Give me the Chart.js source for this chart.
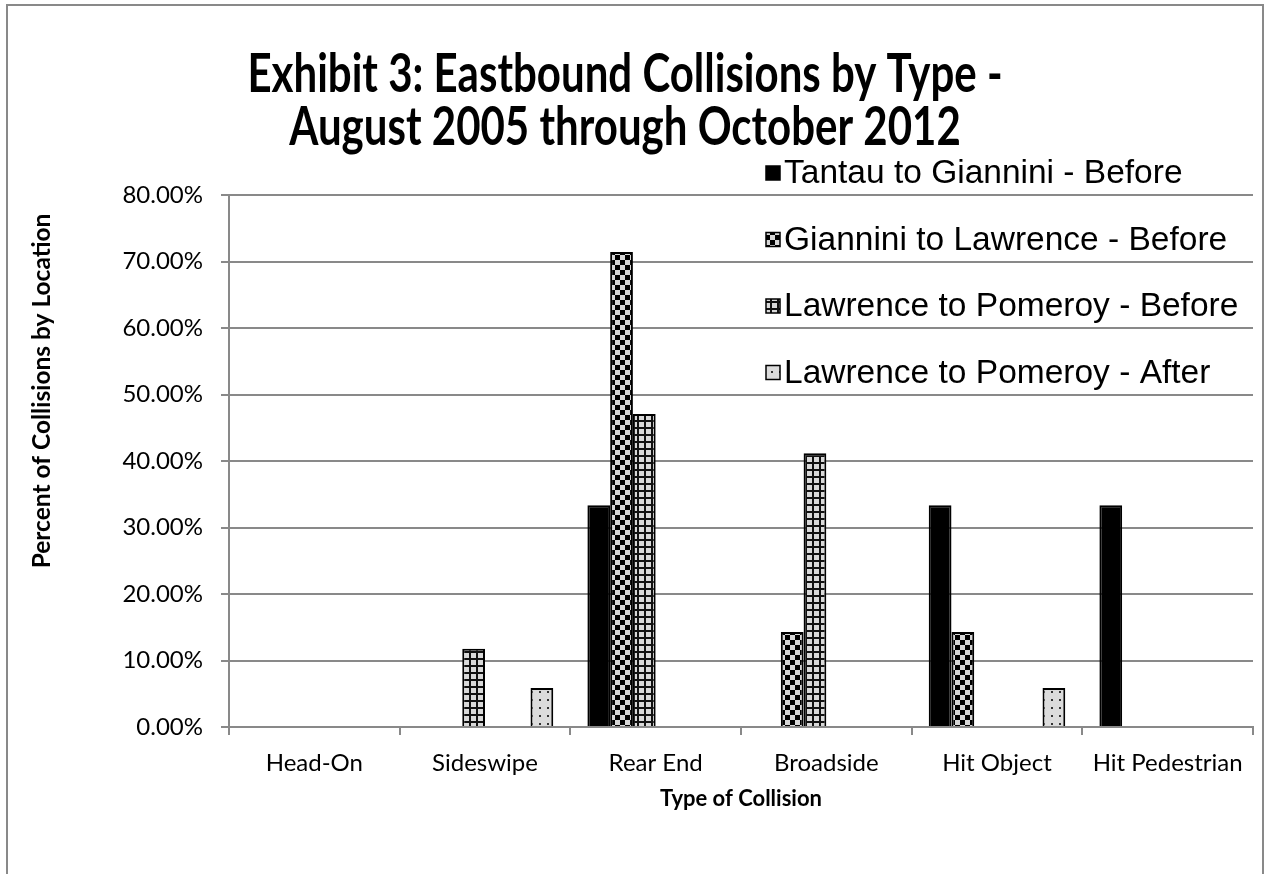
<!DOCTYPE html>
<html>
<head>
<meta charset="utf-8">
<title>Exhibit 3: Eastbound Collisions by Type</title>
<script src="https://cdn.jsdelivr.net/npm/chart.js"></script>
<style>
    html, body { margin: 0; padding: 0; background: #fff; }
</style>
</head>
<body>
<canvas id="collisions" width="1266" height="874"></canvas>
<script>
// Data (percent of collisions by location)
var categories = ["Head-On", "Sideswipe", "Rear End", "Broadside", "Hit Object", "Hit Pedestrian"];
var tantauBefore = [null, null, 33.33, null, 33.33, 33.33];
var gianniniBefore = [null, null, 71.43, 14.29, 14.29, null];
var lawrenceBefore = [null, 11.76, 47.06, 41.18, null, null];
var lawrenceAfter = [null, 5.88, null, null, 5.88, null];
// the original keeps room for two series that have no bars
var emptySeries = [null, null, null, null, null, null];
var yMax = 80;
var yStep = 10;

var titleLines = ["Exhibit 3: Eastbound Collisions by Type -", "August 2005 through October 2012"];
var yTitle = "Percent of Collisions by Location";
var xTitle = "Type of Collision";

var gridGrey = "#898989";

// Fill patterns
function makePattern(kind) {
    var c = document.createElement("canvas");
    var p = c.getContext("2d");
    if (kind === "checker") {
        c.width = c.height = 10;
        p.fillStyle = "#d6d6d6";
        p.fillRect(0, 0, 10, 10);
        p.fillStyle = "#000";
        p.fillRect(0, 0, 5, 5);
        p.fillRect(5, 5, 5, 5);
    } else if (kind === "grid") {
        c.width = c.height = 7;
        p.fillStyle = "#d9d9d9";
        p.fillRect(0, 0, 7, 7);
        p.fillStyle = "#111";
        p.fillRect(0, 0, 7, 2);
        p.fillRect(0, 0, 2, 7);
    } else {
        c.width = c.height = 8;
        p.fillStyle = "#dcdcdc";
        p.fillRect(0, 0, 8, 8);
        p.fillStyle = "#333";
        p.fillRect(3, 3, 2, 2);
    }
    return p.createPattern(c, "repeat");
}

var checker = makePattern("checker");
var gridFill = makePattern("grid");
var dots = makePattern("dots");

// Page frame
var framePlugin = {
    id: "frame",
    beforeDraw: function (chart) {
        var ctx = chart.ctx;
        ctx.save();
        ctx.fillStyle = "#fff";
        ctx.fillRect(0, 0, chart.width, chart.height);
        ctx.strokeStyle = gridGrey;
        ctx.lineWidth = 2;
        ctx.strokeRect(7, 5, 1256, 900);
        ctx.restore();
    }
};

// Tall bold title and the rotated y title
var titlesPlugin = {
    id: "titles",
    afterDraw: function (chart) {
        var ctx = chart.ctx;
        ctx.save();
        ctx.fillStyle = "#000";
        ctx.textAlign = "center";
        ctx.textBaseline = "middle";
        ctx.font = "bold 42px Lato";
        titleLines.forEach(function (t, i) {
            ctx.save();
            ctx.translate(625, 75 + i * 53);
            ctx.scale(1, 1.28);
            ctx.fillText(t, 0, 0);
            ctx.restore();
        });
        ctx.font = "bold 24.5px Lato";
        ctx.translate(42, 391);
        ctx.rotate(-Math.PI / 2);
        ctx.fillText(yTitle, 0, 0);
        ctx.restore();
    }
};

// Legend stacked in the top right, over the grid
var sideLegend = {
    id: "sideLegend",
    afterDraw: function (chart) {
        var ctx = chart.ctx;
        var row = 0;
        ctx.save();
        ctx.font = "33.5px 'Liberation Sans', Arial, sans-serif";
        ctx.textBaseline = "middle";
        chart.data.datasets.forEach(function (ds) {
            if (!ds.label) return;
            var y = 173 + row * 66.5;
            ctx.fillStyle = ds.backgroundColor;
            ctx.fillRect(766, y - 7, 14, 14);
            ctx.strokeStyle = "#000";
            ctx.lineWidth = 1.5;
            ctx.strokeRect(766, y - 7, 14, 14);
            ctx.fillStyle = "#000";
            ctx.fillText(ds.label, 784, y + 1);
            row++;
        });
        ctx.restore();
    }
};

var ctx = document.getElementById("collisions").getContext("2d");
var chart = new Chart(ctx, {
    type: "bar",
    data: {
        labels: categories,
        datasets: [{
            label: "Tantau to Giannini - Before",
            data: tantauBefore,
            backgroundColor: "#000"
        },
            {
                label: "Giannini to Lawrence - Before",
                data: gianniniBefore,
                backgroundColor: checker
            },
            {
                label: "Lawrence to Pomeroy - Before",
                data: lawrenceBefore,
                backgroundColor: gridFill
            },
            {
                label: "",
                data: emptySeries,
                backgroundColor: "#fff"
            },
            {
                label: "",
                data: emptySeries,
                backgroundColor: "#fff"
            },
            {
                label: "Lawrence to Pomeroy - After",
                data: lawrenceAfter,
                backgroundColor: dots
            }
        ]
    },
    options: {
        responsive: false,
        animation: false,
        devicePixelRatio: 1,
        layout: {
            padding: {left: 0, right: 13, top: 195, bottom: 0}
        },
        datasets: {
            bar: {
                categoryPercentage: 0.8,
                barPercentage: 1.0,
                borderColor: "#000",
                borderWidth: 2
            }
        },
        plugins: {
            legend: {display: false},
            tooltip: {enabled: false},
            title: {display: false}
        },
        scales: {
            x: {
                grid: {
                    offset: true,
                    drawOnChartArea: false,
                    color: gridGrey,
                    lineWidth: 2,
                    tickLength: 8
                },
                border: {color: gridGrey, width: 2},
                ticks: {
                    color: "#000",
                    padding: 14,
                    maxRotation: 0,
                    font: {family: "Lato", size: 24}
                },
                title: {
                    display: true,
                    text: xTitle,
                    color: "#000",
                    font: {family: "Lato", size: 22, weight: "bold"},
                    padding: {bottom: 62}
                },
                afterFit: function (scale) {
                    scale.height = 147;
                }
            },
            y: {
                min: 0,
                max: yMax,
                grid: {
                    color: gridGrey,
                    lineWidth: 2,
                    tickLength: 8
                },
                border: {color: gridGrey, width: 2},
                ticks: {
                    stepSize: yStep,
                    color: "#000",
                    padding: 18,
                    font: {family: "Lato", size: 24},
                    callback: function (v) {
                        return v.toFixed(2) + "%";
                    }
                },
                afterFit: function (scale) {
                    scale.width = 229;
                }
            }
        }
    },
    plugins: [framePlugin, titlesPlugin, sideLegend]
});
</script>
</body>
</html>
